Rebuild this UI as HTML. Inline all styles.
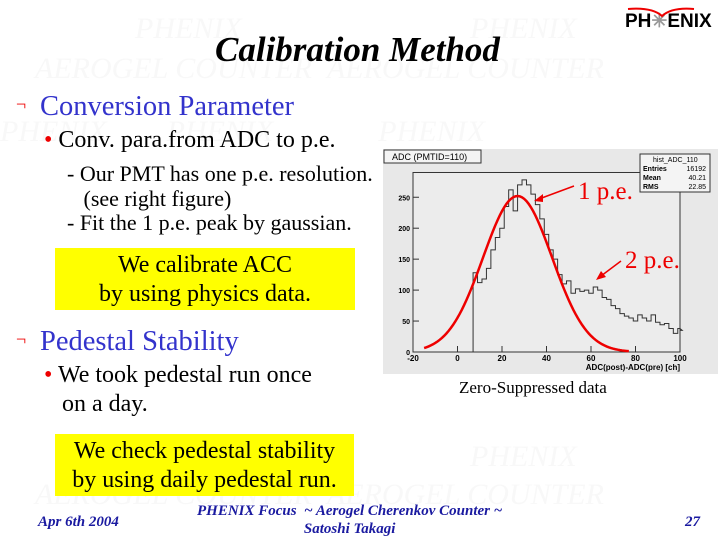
<!DOCTYPE html>
<html><head><meta charset="utf-8"><style>
body{margin:0;width:720px;height:540px;background:#fff;position:relative;overflow:hidden;font-family:"Liberation Serif",serif}
.a{position:absolute;white-space:nowrap}
.wm{position:absolute;white-space:nowrap;color:#f8f8f8;font-style:italic;font-size:30px}
.f{color:#1a1aa0;font-style:italic;font-weight:bold;font-size:15px}
.box{position:absolute;background:#ffff00;text-align:center;font-size:24px;line-height:29px}
</style></head><body>
<div class="wm" style="left:135px;top:12px">PHENIX</div>
<div class="wm" style="left:470px;top:12px">PHENIX</div>
<div class="wm" style="left:35px;top:52px">AEROGEL COUNTER &nbsp;AEROGEL COUNTER</div>
<div class="wm" style="left:0px;top:115px">PHENIX &nbsp; &nbsp; &nbsp; &nbsp;PHENIX &nbsp; &nbsp; &nbsp; &nbsp; &nbsp; &nbsp; &nbsp;PHENIX</div>
<div class="wm" style="left:470px;top:440px">PHENIX</div>
<div class="wm" style="left:35px;top:478px">AEROGEL COUNTER &nbsp;AEROGEL COUNTER</div>

<div class="a" style="left:215px;top:30px;font-size:35px;font-weight:bold;font-style:italic">Calibration Method</div>
<div class="a" style="left:625px;top:10px;font-family:'Liberation Sans',sans-serif;font-weight:bold;font-size:19px">PH<span style="color:#999">✳</span>ENIX</div>
<svg class="a" style="left:622px;top:4px" width="78" height="14"><path d="M6 5 Q30 3 40 12 Q50 3 72 5" stroke="#e00" stroke-width="2" fill="none"/></svg>

<div class="a" style="left:16px;top:94px;font-size:18px;color:#e00">¬</div>
<div class="a" style="left:40px;top:91px;font-size:28.5px;color:#3333cc">Conversion Parameter</div>
<div class="a" style="left:44px;top:127px;font-size:24px"><span style="color:#e00">•</span> Conv. para.from ADC to p.e.</div>
<div class="a" style="left:67px;top:162px;font-size:22px;line-height:24.5px">- Our PMT has one p.e. resolution.<br>&nbsp;&nbsp; (see right figure)<br>- Fit the 1 p.e. peak by gaussian.</div>
<div class="box" style="left:55px;top:248px;width:300px;height:62px;padding-top:3px;box-sizing:border-box">We calibrate ACC<br>by using physics data.</div>
<div class="a" style="left:16px;top:329px;font-size:18px;color:#e00">¬</div>
<div class="a" style="left:40px;top:326px;font-size:28.5px;color:#3333cc">Pedestal Stability</div>
<div class="a" style="left:44px;top:361px;font-size:24px;line-height:29px"><span style="color:#e00">•</span> We took pedestal run once<br>&nbsp;&nbsp; on a day.</div>
<div class="box" style="left:55px;top:434px;width:299px;height:62px;padding-top:3px;box-sizing:border-box">We check pedestal stability<br>by using daily pedestal run.</div>
<div class="a" style="left:459px;top:378px;font-size:17px">Zero-Suppressed data</div>

<svg class="a" style="left:383px;top:149px" width="335" height="225" id="g"></svg>
<div class="a" style="left:578px;top:178px;font-size:25px;color:#e00">1 p.e.</div>
<div class="a" style="left:625px;top:247px;font-size:25px;color:#e00">2 p.e.</div>

<div class="a f" style="left:38px;top:514px">Apr 6th 2004</div>
<div class="a f" style="left:197px;top:502px;text-align:center;line-height:18px">PHENIX Focus &nbsp;~ Aerogel Cherenkov Counter ~<br>Satoshi Takagi</div>
<div class="a f" style="left:685px;top:514px">27</div>
<script>
var s='',ox=383,oy=149;
function X(v){return 413+(v+20)*2.225-ox}
function Y(v){return 352-v*0.619-oy}
s+='<rect x="0" y="0" width="335" height="225" fill="#e8e8e8"/>';
s+='<rect x="'+X(-20)+'" y="'+Y(290)+'" width="'+(X(100)-X(-20))+'" height="'+(Y(0)-Y(290))+'" fill="#ececec" stroke="#333"/>';
s+='<rect x="1" y="1" width="97" height="13" fill="#f4f4f4" stroke="#333"/><text x="9" y="11" font-family="Liberation Sans" font-size="9">ADC (PMTID=110)</text>';
s+='<rect x="257" y="5" width="70" height="38" fill="#f4f4f4" stroke="#333"/><text x="270" y="13" font-family="Liberation Sans" font-size="7">hist_ADC_110</text>';
[['Entries','16192',22],['Mean','40.21',31],['RMS','22.85',40]].forEach(function(r){s+='<text x="260" y="'+r[2]+'" font-family="Liberation Sans" font-size="7" font-weight="bold">'+r[0]+'</text><text x="323" y="'+r[2]+'" text-anchor="end" font-family="Liberation Sans" font-size="7">'+r[1]+'</text>'});
for(var v=-20;v<=100;v+=20){s+='<line x1="'+X(v)+'" x2="'+X(v)+'" y1="'+Y(0)+'" y2="'+(Y(0)-6)+'" stroke="#333"/><text x="'+X(v)+'" y="'+(Y(0)+9)+'" text-anchor="middle" font-family="Liberation Sans" font-size="8" font-weight="bold">'+v+'</text>'}
for(var v=0;v<=250;v+=50){s+='<line x1="'+X(-20)+'" x2="'+(X(-20)+6)+'" y1="'+Y(v)+'" y2="'+Y(v)+'" stroke="#333"/><text x="'+(X(-20)-3)+'" y="'+(Y(v)+3)+'" text-anchor="end" font-family="Liberation Sans" font-size="7" font-weight="bold">'+v+'</text>'}
s+='<text x="'+X(100)+'" y="'+(Y(0)+18)+'" text-anchor="end" font-family="Liberation Sans" font-size="8" font-weight="bold">ADC(post)-ADC(pre) [ch]</text>';
var h=[128,112,118,135,165,185,200,235,262,228,270,278,270,255,238,215,190,165,150,125,110,115,95,102,98,100,95,105,100,88,85,75,70,62,58,55,50,60,55,50,60,48,44,46,38,30,38,35];
var p='M'+X(7)+' '+Y(0),x=7;
h.forEach(function(v){p+=' L'+X(x)+' '+Y(v)+' L'+X(Math.min(x+2,100))+' '+Y(v);x+=2});
s+='<path d="'+p+'" fill="none" stroke="#333" stroke-width="1"/>';
var q='';for(var t=-15;t<=77;t+=1){q+=(q?' L':'M')+X(t)+' '+Y(252*Math.exp(-(t-27)*(t-27)/(2*15.5*15.5)))}
s+='<path d="'+q+'" fill="none" stroke="#e00" stroke-width="2.5"/>';
s+='<line x1="191" y1="37" x2="156" y2="50" stroke="#e00" stroke-width="1.5"/><path d="M151 52 L160 45 L160 53Z" fill="#e00"/>';
s+='<line x1="238" y1="112" x2="218" y2="127" stroke="#e00" stroke-width="1.5"/><path d="M213 131 L218 122 L223 128Z" fill="#e00"/>';
document.getElementById('g').innerHTML=s;
</script>
</body></html>
